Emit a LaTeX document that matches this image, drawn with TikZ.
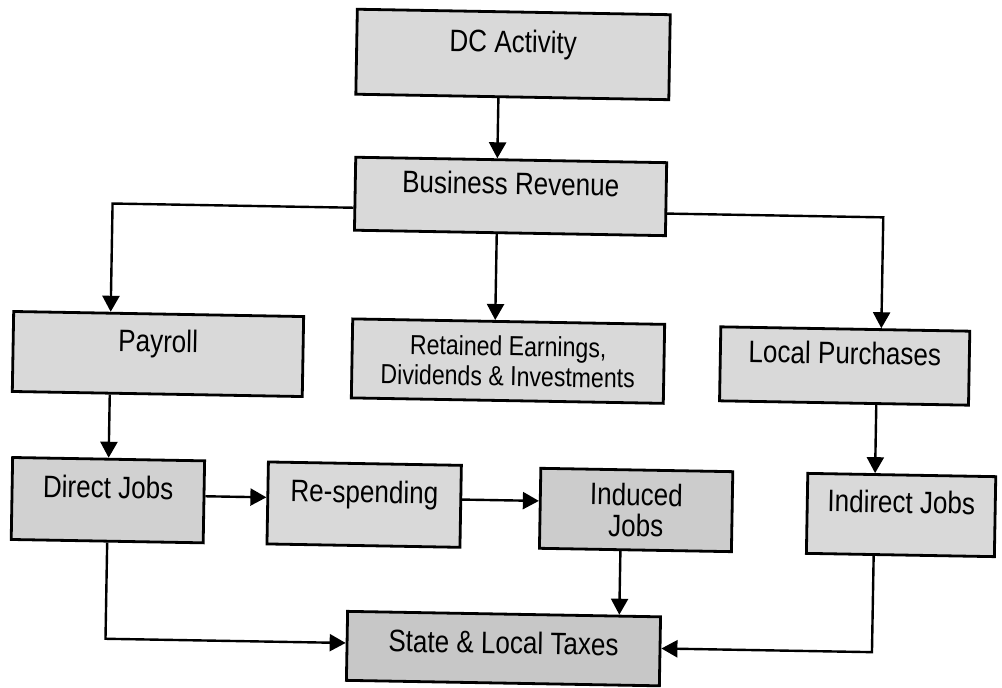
\documentclass[tikz,border=0pt]{standalone}
\usepackage{fontspec}
\setmainfont{Liberation Sans}
\newfontfamily\boxfont[FakeStretch=0.84]{Liberation Sans}
\usetikzlibrary{arrows.meta,calc}

\tikzset{
  box/.style={draw=black, line width=2.8pt, fill=black!15, inner sep=0pt,
              align=center, text=black},
  oneline/.style={text height=20pt, text depth=24pt},
  big/.style={font=\boxfont\fontsize{31}{31}\selectfont},
  small/.style={font=\boxfont\fontsize{27.5}{30}\selectfont},
  arr/.style={line width=2.4pt, -{Triangle[length=16pt,width=17pt]}},
}

\begin{document}
\begin{tikzpicture}[x=1pt,y=-1pt]
  \fill[white] (0,0) rectangle (1002,688);
  \useasboundingbox (0,0) rectangle (1002,688);

  % the whole chart sits about one degree off square on the page
  \begin{scope}[rotate around={-1:(501,344)}, transform shape]

    % boxes
    \node[box, oneline, big, minimum width=313pt, minimum height=85pt] (dc) at (508,54.3) {DC Activity};
    \node[box, oneline, big, minimum width=311pt, minimum height=73pt] (br) at (508,196.3) {Business Revenue};
    \node[box, oneline, big, minimum width=290pt, minimum height=80pt] (payroll) at (158.2,360) {Payroll};
    \node[box, small, minimum width=312pt, minimum height=79pt] (retained) at (508.3,361) {Retained Earnings,\\Dividends \& Investments};
    \node[box, oneline, big, minimum width=249pt, minimum height=74pt] (local) at (845,360) {Local Purchases};
    \node[box, oneline, big, fill=black!18, minimum width=192pt, minimum height=82pt] (direct) at (110.7,507) {Direct Jobs};
    \node[box, oneline, big, minimum width=193pt, minimum height=82pt] (respend) at (367,507) {Re-spending};
    \node[box, big, fill=black!20, minimum width=192pt, minimum height=80pt] (induced) at (639,507.6) {Induced\\Jobs};
    \node[box, oneline, big, minimum width=188pt, minimum height=80pt] (indirect) at (904,508) {Indirect Jobs};
    \node[box, big, fill=black!22, text height=24pt, text depth=14pt, minimum width=313pt, minimum height=69pt] (state) at (508.8,648.5) {State \& Local Taxes};

    % DC Activity -> Business Revenue
    \coordinate (a1) at ($(dc.south west)!0.456!(dc.south east)$);
    \draw[arr] (a1) -- ($(br.north west)!(a1)!(br.north east)$);

    % Business Revenue -> Retained Earnings
    \coordinate (a2) at ($(br.south west)!0.458!(br.south east)$);
    \draw[arr] (a2) -- ($(retained.north west)!(a2)!(retained.north east)$);

    % Business Revenue -> Payroll
    \coordinate (a3) at ($(br.north west)!0.685!(br.south west)$);
    \coordinate (p3) at ($(payroll.north west)!0.336!(payroll.north east)$);
    \coordinate (q3) at ($(payroll.south west)!0.336!(payroll.south east)$);
    \draw[arr] (a3) -- ($(p3)!(a3)!(q3)$) -- (p3);

    % Business Revenue -> Local Purchases
    \coordinate (a4) at ($(br.north east)!0.69!(br.south east)$);
    \coordinate (p4) at ($(local.north west)!0.643!(local.north east)$);
    \coordinate (q4) at ($(local.south west)!0.643!(local.south east)$);
    \draw[arr] (a4) -- ($(p4)!(a4)!(q4)$) -- (p4);

    % Payroll -> Direct Jobs
    \draw[arr] ($(payroll.south west)!(direct.north)!(payroll.south east)$) -- (direct.north);

    % Local Purchases -> Indirect Jobs
    \coordinate (p6) at ($(indirect.north west)!0.36!(indirect.north east)$);
    \draw[arr] ($(local.south west)!(p6)!(local.south east)$) -- (p6);

    % Direct Jobs -> Re-spending -> Induced Jobs
    \coordinate (s7) at ($(direct.north east)!0.434!(direct.south east)$);
    \draw[arr] (s7) -- ($(respend.north west)!(s7)!(respend.south west)$);
    \coordinate (s8) at ($(respend.north east)!0.42!(respend.south east)$);
    \draw[arr] (s8) -- ($(induced.north west)!(s8)!(induced.south west)$);

    % Induced Jobs -> State & Local Taxes
    \coordinate (s9) at ($(induced.south west)!0.423!(induced.south east)$);
    \draw[arr] (s9) -- ($(state.north west)!(s9)!(state.north east)$);

    % Direct Jobs -> State & Local Taxes
    \coordinate (e10) at ($(state.north west)!0.46!(state.south west)$);
    \draw[arr] (direct.south) -- ($(direct.north)!(e10)!(direct.south)$) -- (e10);

    % Indirect Jobs -> State & Local Taxes
    \coordinate (e11) at ($(state.north east)!0.46!(state.south east)$);
    \coordinate (s11) at ($(indirect.south west)!0.36!(indirect.south east)$);
    \draw[arr] (s11) -- ($(p6)!(e11)!(s11)$) -- (e11);
  \end{scope}
\end{tikzpicture}
\end{document}
